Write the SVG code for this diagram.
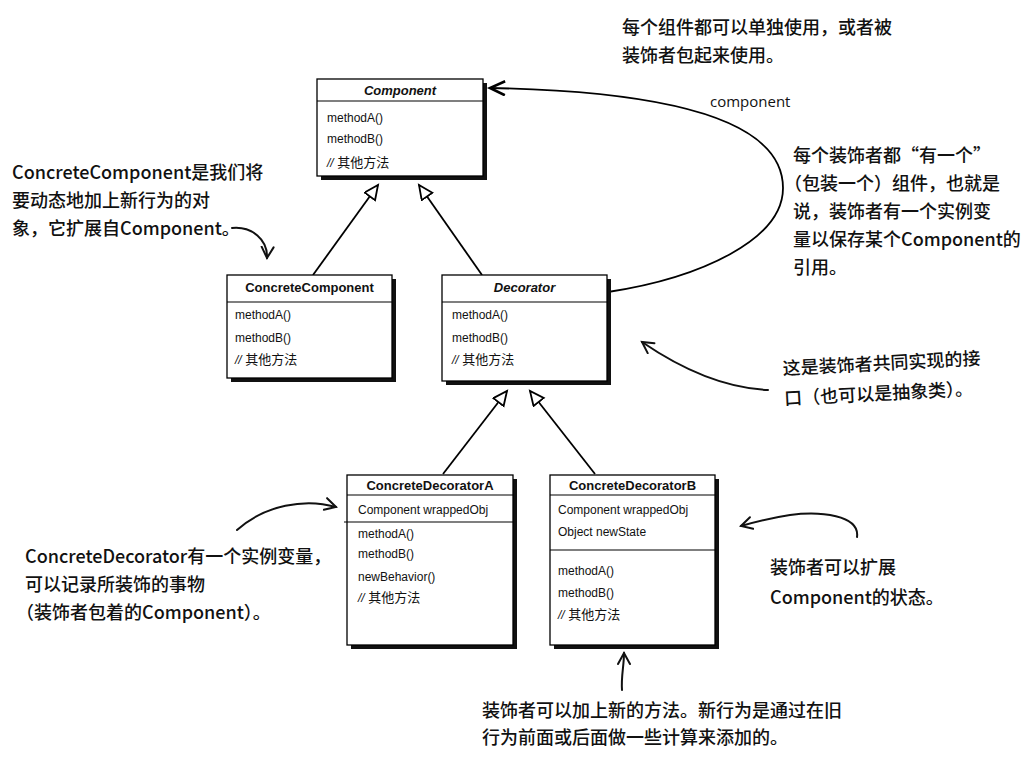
<svg xmlns="http://www.w3.org/2000/svg" width="1032" height="774" viewBox="0 0 1032 774">
<style>
.bg{fill:#fff}
.box{fill:#fff;stroke:#000;stroke-width:1.3}
.shadow{fill:#111}
.sep{stroke:#000;stroke-width:1.2}
.t{font-family:"Liberation Sans","Noto Sans CJK SC",sans-serif;font-size:12px;fill:#111}
.cj{font-size:13px}
.title{font-weight:bold;font-size:13px;text-anchor:middle}
.it{font-style:italic}
.note{font-family:"Noto Sans CJK SC",sans-serif;font-size:18px;font-weight:500;fill:#111}
.lbl{font-family:"Open Sans","Liberation Sans",sans-serif;font-size:15px;fill:#111}
.conn{stroke:#000;stroke-width:1.8;fill:none}
.hand{stroke:#111;stroke-width:2;fill:none;stroke-linecap:round}
</style>
<defs>
<marker id="tri" markerUnits="userSpaceOnUse" markerWidth="18" markerHeight="16" refX="15" refY="7" orient="auto">
<path d="M1,0.5 L15,7 L1,13.5 z" fill="#fff" stroke="#000" stroke-width="1.8"/>
</marker>
<marker id="open" markerUnits="userSpaceOnUse" markerWidth="20" markerHeight="18" refX="16" refY="8" orient="auto">
<path d="M1,1 L16,8 L1,15" fill="none" stroke="#000" stroke-width="2.6"/>
</marker>
<marker id="hd" markerUnits="userSpaceOnUse" markerWidth="16" markerHeight="16" refX="12" refY="7" orient="auto">
<path d="M1,1 L12,7 L1,13" fill="none" stroke="#111" stroke-width="2" stroke-linecap="round"/>
</marker>
</defs>
<rect class="bg" x="0" y="0" width="1032" height="774"/>

<g id="connectors">
<line class="conn" x1="313" y1="275" x2="378" y2="185" marker-end="url(#tri)"/>
<line class="conn" x1="482" y1="275" x2="419" y2="185" marker-end="url(#tri)"/>
<line class="conn" x1="443" y1="474" x2="507" y2="391" marker-end="url(#tri)"/>
<line class="conn" x1="595" y1="474" x2="530" y2="391" marker-end="url(#tri)"/>
<path class="conn" d="M608,292 C700,278 783,240 783,188 C783,130 700,92 490,88" marker-end="url(#open)"/>
<text class="lbl" x="710" y="107">component</text>
</g>

<g id="Component">
<rect class="shadow" x="321" y="83" width="166" height="97"/>
<rect class="box" x="317" y="79" width="166" height="97"/>
<line class="sep" x1="317" y1="101" x2="483" y2="101"/>
<text class="t title it" x="400" y="95">Component</text>
<text class="t" x="327" y="122">methodA()</text>
<text class="t" x="327" y="143">methodB()</text>
<text class="t cj" x="327" y="167"><tspan class="it" font-size="12">//</tspan> 其他方法</text>
</g>

<g id="ConcreteComponent">
<rect class="shadow" x="231" y="279" width="165" height="103"/>
<rect class="box" x="227" y="275" width="165" height="103"/>
<line class="sep" x1="227" y1="302" x2="392" y2="302"/>
<text class="t title" x="309.5" y="292">ConcreteComponent</text>
<text class="t" x="235" y="319">methodA()</text>
<text class="t" x="235" y="342">methodB()</text>
<text class="t cj" x="235" y="364"><tspan class="it" font-size="12">//</tspan> 其他方法</text>
</g>

<g id="Decorator">
<rect class="shadow" x="446" y="279" width="165" height="106"/>
<rect class="box" x="442" y="275" width="165" height="106"/>
<line class="sep" x1="442" y1="302" x2="607" y2="302"/>
<text class="t title it" x="524.5" y="292">Decorator</text>
<text class="t" x="452" y="319">methodA()</text>
<text class="t" x="452" y="342">methodB()</text>
<text class="t cj" x="452" y="364"><tspan class="it" font-size="12">//</tspan> 其他方法</text>
</g>

<g id="ConcreteDecoratorA">
<rect class="shadow" x="351" y="479" width="166" height="170"/>
<rect class="box" x="347" y="475" width="166" height="170"/>
<line class="sep" x1="347" y1="495" x2="513" y2="495"/>
<line class="sep" x1="344" y1="522" x2="513" y2="522"/>
<text class="t title" x="430" y="490">ConcreteDecoratorA</text>
<text class="t" x="358" y="514">Component wrappedObj</text>
<text class="t" x="358" y="538">methodA()</text>
<text class="t" x="358" y="558">methodB()</text>
<text class="t" x="358" y="581">newBehavior()</text>
<text class="t cj" x="358" y="602"><tspan class="it" font-size="12">//</tspan> 其他方法</text>
</g>

<g id="ConcreteDecoratorB">
<rect class="shadow" x="554" y="479" width="165" height="170"/>
<rect class="box" x="550" y="475" width="165" height="170"/>
<line class="sep" x1="550" y1="495" x2="715" y2="495"/>
<line class="sep" x1="550" y1="550" x2="715" y2="550"/>
<text class="t title" x="632.5" y="490">ConcreteDecoratorB</text>
<text class="t" x="558" y="514">Component wrappedObj</text>
<text class="t" x="558" y="536">Object newState</text>
<text class="t" x="558" y="575">methodA()</text>
<text class="t" x="558" y="597">methodB()</text>
<text class="t cj" x="558" y="619"><tspan class="it" font-size="12">//</tspan> 其他方法</text>
</g>

<g id="note-top">
<text class="note" x="622" y="34">每个组件都可以单独使用，或者被</text>
<text class="note" x="622" y="62">装饰者包起来使用。</text>
</g>

<g id="note-right">
<text class="note" x="793" y="162">每个装饰者都“有一个”</text>
<text class="note" x="784" y="190">（包装一个）组件，也就是</text>
<text class="note" x="793" y="218">说，装饰者有一个实例变</text>
<text class="note" x="793" y="246">量以保存某个Component的</text>
<text class="note" x="793" y="274">引用。</text>
</g>

<g id="note-left">
<text class="note" x="12" y="179">ConcreteComponent是我们将</text>
<text class="note" x="12" y="207">要动态地加上新行为的对</text>
<text class="note" x="12" y="235">象，它扩展自Component。</text>
<path class="hand" d="M232,228 C252,226 268,240 267,258" marker-end="url(#hd)"/>
</g>

<g id="note-interface">
<g transform="rotate(-3 783 375)">
<text class="note" x="783" y="375">这是装饰者共同实现的接</text>
<text class="note" x="783" y="405">口（也可以是抽象类）。</text>
</g>
<path class="hand" d="M768,390 C722,388 680,368 642,342" marker-end="url(#hd)"/>
</g>

<g id="note-decoratorA">
<text class="note" x="25" y="563">ConcreteDecorator有一个实例变量，</text>
<text class="note" x="25" y="591">可以记录所装饰的事物</text>
<text class="note" x="16" y="619">（装饰者包着的Component）。</text>
<path class="hand" d="M237,530 C265,505 305,498 336,507" marker-end="url(#hd)"/>
</g>

<g id="note-decoratorB">
<text class="note" x="770" y="574">装饰者可以扩展</text>
<text class="note" x="770" y="604">Component的状态。</text>
<path class="hand" d="M857,537 C860,515 820,511 790,515 C770,518 755,522 741,526" marker-end="url(#hd)"/>
</g>

<g id="note-bottom">
<text class="note" x="482" y="717">装饰者可以加上新的方法。新行为是通过在旧</text>
<text class="note" x="482" y="744">行为前面或后面做一些计算来添加的。</text>
<path class="hand" d="M622,690 C621,676 624,666 624,653" marker-end="url(#hd)"/>
</g>
</svg>
